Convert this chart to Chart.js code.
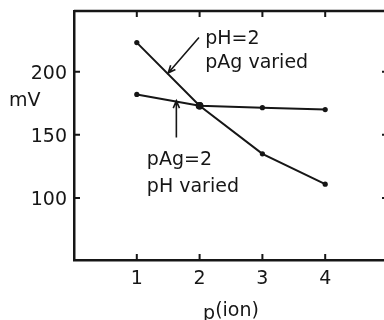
<!DOCTYPE html>
<html>
<head>
<meta charset="utf-8">
<script src="https://cdn.jsdelivr.net/npm/chart.js@4/dist/chart.umd.min.js"></script>
<style>
  html, body { margin: 0; padding: 0; background: #fff; overflow: hidden; }
  .chart { position: relative; width: 400px; height: 320px; }
</style>
</head>
<body>
<div class="chart"><canvas id="mv"></canvas></div>
<script>
// p(ion) values on the x axis
const pIon = [1, 2, 3, 4];
// potential in mV, pH fixed at 2 while pAg changes
const mvPAgVaried = [223, 173, 135, 111];
// potential in mV, pAg fixed at 2 while pH changes
const mvPHVaried = [182, 173, 171.5, 170];

const xTicks = [1, 2, 3, 4];
const yTicks = [100, 150, 200];

const INK = '#161616';
const FONT = 'DejaVu Sans';

// labels written inside the plot, placed in data units
const notes = [
  { text: 'pH=2', x: 2.09, y: 222 },
  { text: 'pAg varied', x: 2.09, y: 203 },
  { text: 'pAg=2', x: 1.16, y: 126 },
  { text: 'pH varied', x: 1.16, y: 105 },
];
// arrows from the labels to their curves: [fromX, fromY, toX, toY]
const arrows = [
  [1.99, 227, 1.5, 199],
  [1.63, 148, 1.63, 177],
];

const toPoints = (ys) => pIon.map((x, i) => ({ x, y: ys[i] }));

function drawArrow(ctx, x0, y0, x1, y1) {
  const a = Math.atan2(y1 - y0, x1 - x0);
  const len = 8;
  ctx.beginPath();
  ctx.moveTo(x0, y0);
  ctx.lineTo(x1, y1);
  ctx.moveTo(x1 - len * Math.cos(a - 0.4), y1 - len * Math.sin(a - 0.4));
  ctx.lineTo(x1, y1);
  ctx.lineTo(x1 - len * Math.cos(a + 0.4), y1 - len * Math.sin(a + 0.4));
  ctx.stroke();
}

// frame on all four sides, inward ticks, axis titles and notes
const framePlugin = {
  id: 'frame',
  afterDraw(chart) {
    const { ctx, chartArea: area, scales: { x, y } } = chart;
    const tick = 6;
    ctx.save();
    ctx.strokeStyle = INK;
    ctx.lineWidth = 2.5;
    ctx.beginPath();
    ctx.moveTo(area.left, area.top);
    ctx.lineTo(area.right, area.top);
    ctx.lineTo(area.right, area.bottom);
    ctx.stroke();

    ctx.lineWidth = 2;
    ctx.beginPath();
    xTicks.forEach((v) => {
      const px = x.getPixelForValue(v);
      ctx.moveTo(px, area.bottom);
      ctx.lineTo(px, area.bottom - tick);
      ctx.moveTo(px, area.top);
      ctx.lineTo(px, area.top + tick);
    });
    yTicks.forEach((v) => {
      const py = y.getPixelForValue(v);
      ctx.moveTo(area.left, py);
      ctx.lineTo(area.left + tick, py);
      ctx.moveTo(area.right, py);
      ctx.lineTo(area.right - tick, py);
    });
    ctx.stroke();

    ctx.fillStyle = INK;
    ctx.font = `19px "${FONT}"`;
    ctx.textBaseline = 'alphabetic';
    ctx.textAlign = 'left';
    notes.forEach((n) => {
      ctx.fillText(n.text, x.getPixelForValue(n.x), y.getPixelForValue(n.y));
    });

    // y axis title, horizontal
    ctx.fillText('mV', 9, y.getPixelForValue(173));

    // x axis title: p with a raised (ion)
    const pW = ctx.measureText('p').width;
    const ionW = ctx.measureText('(ion)').width;
    const cx = (area.left + area.right) / 2;
    const sx = cx - (pW + ionW) / 2;
    ctx.fillText('p', sx, 319);
    ctx.fillText('(ion)', sx + pW, 316);

    ctx.lineWidth = 1.6;
    arrows.forEach(([x0, y0, x1, y1]) => {
      drawArrow(ctx,
        x.getPixelForValue(x0), y.getPixelForValue(y0),
        x.getPixelForValue(x1), y.getPixelForValue(y1));
    });
    ctx.restore();
  },
};

const lineStyle = {
  showLine: true,
  borderColor: INK,
  borderWidth: 2,
  pointBackgroundColor: INK,
  pointBorderWidth: 0,
  tension: 0,
};

new Chart(document.getElementById('mv'), {
  type: 'scatter',
  data: {
    datasets: [
      { ...lineStyle, label: 'pH=2, pAg varied', data: toPoints(mvPAgVaried), pointRadius: [2.6, 3.8, 2.6, 2.6] },
      { ...lineStyle, label: 'pAg=2, pH varied', data: toPoints(mvPHVaried), pointRadius: [2.6, 3.8, 2.6, 2.6] },
    ],
  },
  options: {
    responsive: true,
    maintainAspectRatio: false,
    devicePixelRatio: 1,
    animation: false,
    layout: { padding: { top: 11, right: 12, left: 0, bottom: 0 } },
    plugins: { legend: { display: false }, tooltip: { enabled: false } },
    scales: {
      x: {
        type: 'linear',
        position: 'bottom',
        min: 0,
        max: 5,
        afterBuildTicks: (s) => { s.ticks = xTicks.map((v) => ({ value: v })); },
        afterFit: (s) => { s.height = 60; s.paddingLeft = 0; s.paddingRight = 0; },
        grid: { display: false, drawTicks: false },
        border: { display: true, color: INK, width: 2.5 },
        ticks: { color: INK, font: { family: FONT, size: 19 }, padding: 8, maxRotation: 0, autoSkip: false },
      },
      y: {
        type: 'linear',
        min: 51,
        max: 248,
        afterBuildTicks: (s) => { s.ticks = yTicks.map((v) => ({ value: v })); },
        afterFit: (s) => { s.width = 74; s.paddingTop = 0; s.paddingBottom = 0; },
        grid: { display: false, drawTicks: false },
        border: { display: true, color: INK, width: 2.5 },
        ticks: { color: INK, font: { family: FONT, size: 19 }, padding: 7, labelOffset: 2 },
      },
    },
  },
  plugins: [framePlugin],
});
</script>
</body>
</html>
